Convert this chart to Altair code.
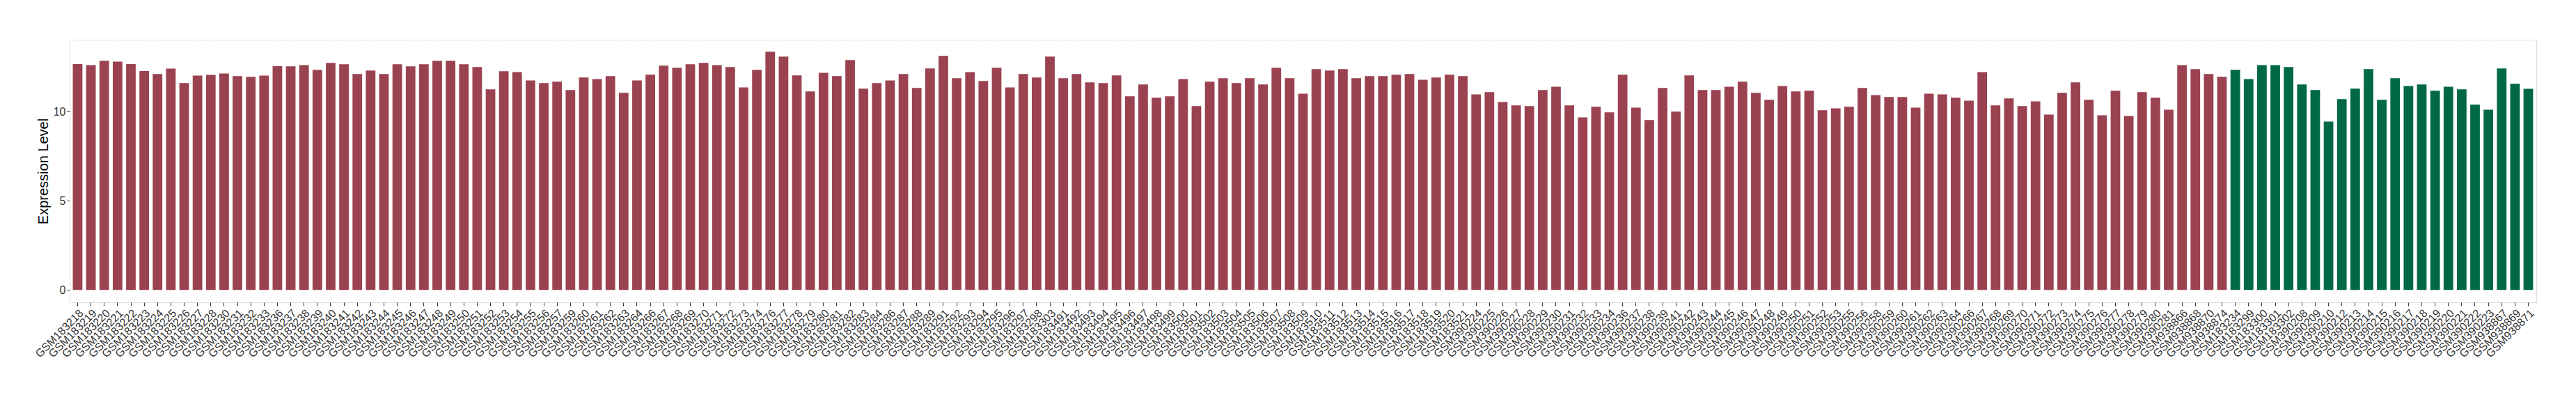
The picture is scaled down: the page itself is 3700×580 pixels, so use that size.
import altair as alt
import pandas as pd

red_samples = [
    "GSM183218", "GSM183219", "GSM183220", "GSM183221", "GSM183222", "GSM183223", "GSM183224", "GSM183225",
    "GSM183226", "GSM183227", "GSM183228", "GSM183230", "GSM183231", "GSM183232", "GSM183233", "GSM183236",
    "GSM183237", "GSM183238", "GSM183239", "GSM183240", "GSM183241", "GSM183242", "GSM183243", "GSM183244",
    "GSM183245", "GSM183246", "GSM183247", "GSM183248", "GSM183249", "GSM183250", "GSM183251", "GSM183252",
    "GSM183253", "GSM183254", "GSM183255", "GSM183256", "GSM183257", "GSM183259", "GSM183260", "GSM183261",
    "GSM183262", "GSM183263", "GSM183264", "GSM183266", "GSM183267", "GSM183268", "GSM183269", "GSM183270",
    "GSM183271", "GSM183272", "GSM183273", "GSM183274", "GSM183276", "GSM183277", "GSM183278", "GSM183279",
    "GSM183280", "GSM183281", "GSM183282", "GSM183283", "GSM183284", "GSM183286", "GSM183287", "GSM183288",
    "GSM183289", "GSM183291", "GSM183292", "GSM183293", "GSM183294", "GSM183295", "GSM183296", "GSM183297",
    "GSM183298", "GSM183303", "GSM183491", "GSM183492", "GSM183493", "GSM183494", "GSM183495", "GSM183496",
    "GSM183497", "GSM183498", "GSM183499", "GSM183500", "GSM183501", "GSM183502", "GSM183503", "GSM183504",
    "GSM183505", "GSM183506", "GSM183507", "GSM183508", "GSM183509", "GSM183510", "GSM183511", "GSM183512",
    "GSM183513", "GSM183514", "GSM183515", "GSM183516", "GSM183517", "GSM183518", "GSM183519", "GSM183520",
    "GSM183521", "GSM390224", "GSM390225", "GSM390226", "GSM390227", "GSM390228", "GSM390229", "GSM390230",
    "GSM390231", "GSM390232", "GSM390233", "GSM390234", "GSM390236", "GSM390237", "GSM390238", "GSM390239",
    "GSM390241", "GSM390242", "GSM390243", "GSM390244", "GSM390245", "GSM390246", "GSM390247", "GSM390248",
    "GSM390249", "GSM390250", "GSM390251", "GSM390252", "GSM390253", "GSM390255", "GSM390256", "GSM390258",
    "GSM390259", "GSM390260", "GSM390261", "GSM390262", "GSM390263", "GSM390264", "GSM390266", "GSM390267",
    "GSM390268", "GSM390269", "GSM390270", "GSM390271", "GSM390272", "GSM390273", "GSM390274", "GSM390275",
    "GSM390276", "GSM390277", "GSM390278", "GSM390279", "GSM390280", "GSM390281", "GSM938866", "GSM938868",
    "GSM938870", "GSM938874",
]
red_values = [
    12.65, 12.60, 12.84, 12.79, 12.65, 12.26, 12.10, 12.40,
    11.59, 12.01, 12.05, 12.13, 11.98, 11.94, 12.01, 12.54,
    12.53, 12.60, 12.33, 12.72, 12.64, 12.10, 12.29, 12.10,
    12.64, 12.53, 12.64, 12.84, 12.84, 12.64, 12.49, 11.24,
    12.25, 12.21, 11.74, 11.59, 11.67, 11.20, 11.90, 11.82,
    11.98, 11.04, 11.74, 12.06, 12.57, 12.45, 12.64, 12.72,
    12.60, 12.49, 11.35, 12.33, 13.35, 13.07, 12.02, 11.12,
    12.17, 11.98, 12.88, 11.28, 11.59, 11.74, 12.10, 11.32,
    12.41, 13.11, 11.86, 12.21, 11.71, 12.45, 11.35, 12.10,
    11.90, 13.07, 11.86, 12.10, 11.63, 11.59, 12.02, 10.85,
    11.51, 10.77, 10.85, 11.82, 10.30, 11.67, 11.86, 11.59,
    11.86, 11.51, 12.45, 11.86, 11.00, 12.37, 12.29, 12.37,
    11.86, 11.98, 11.98, 12.06, 12.10, 11.78, 11.90, 12.06,
    11.98, 10.96, 11.08, 10.53, 10.34, 10.30, 11.20, 11.39,
    10.34, 9.67, 10.26, 9.95, 12.06, 10.22, 9.52, 11.32,
    9.99, 12.02, 11.20, 11.20, 11.39, 11.67, 11.04, 10.65,
    11.43, 11.12, 11.16, 10.07, 10.18, 10.26, 11.32, 10.92,
    10.81, 10.81, 10.22, 11.00, 10.96, 10.77, 10.61, 12.21,
    10.34, 10.73, 10.30, 10.57, 9.83, 11.04, 11.63, 10.65,
    9.79, 11.16, 9.75, 11.08, 10.77, 10.10, 12.60, 12.37,
    12.10, 11.94,
]
green_samples = [
    "GSM183234", "GSM183299", "GSM183300", "GSM183301", "GSM183302", "GSM390208", "GSM390209", "GSM390210",
    "GSM390212", "GSM390213", "GSM390214", "GSM390215", "GSM390216", "GSM390217", "GSM390218", "GSM390219",
    "GSM390220", "GSM390221", "GSM390222", "GSM390223", "GSM938867", "GSM938869", "GSM938871",
]
green_values = [
    12.33, 11.82, 12.60, 12.60, 12.49, 11.51, 11.20, 9.44,
    10.69, 11.28, 12.37, 10.65, 11.86, 11.43, 11.51, 11.16,
    11.39, 11.24, 10.38, 10.10, 12.41, 11.55, 11.27,
]
groups = ["Group 1", "Group 2"]
colors = ["#9B4251", "#006847"]
y_ticks = [0, 2.5, 5, 7.5, 10, 12.5]

df = pd.DataFrame({
    "sample": red_samples + green_samples,
    "value": red_values + green_values,
    "group": [groups[0]] * len(red_samples) + [groups[1]] * len(green_samples),
})
order = red_samples + green_samples

major = "datum.value % 5 === 0"

chart = alt.Chart(df).mark_bar().encode(
    x=alt.X(
        "sample:N", sort=order, title=None,
        scale=alt.Scale(paddingInner=0.28, paddingOuter=0.24),
        axis=alt.Axis(
            labelAngle=-45, labelAlign="right", labelBaseline="top", bandPosition=0.5,
            grid=True, gridColor="white", gridWidth=1.2, domain=False,
            tickColor="#333333", tickSize=5, tickWidth=1, labelPadding=2,
            labelFontSize=16, labelColor="#333333", labelOverlap=False, labelFlush=False,
        ),
    ),
    y=alt.Y(
        "value:Q", title="Expression Level",
        scale=alt.Scale(domain=[-0.69, 14.02], nice=False),
        axis=alt.Axis(
            values=y_ticks,
            labelExpr="datum.value % 5 === 0 ? datum.label : ''",
            grid=True, gridColor="white",
            gridWidth={"condition": {"test": major, "value": 1.3}, "value": 0.6},
            tickOpacity={"condition": {"test": major, "value": 1}, "value": 0},
            tickColor="#333333", tickSize=4, labelPadding=2, domain=False,
            labelFontSize=16, labelColor="#333333",
            titleFontSize=20, titleFontWeight="normal", titleColor="black", titlePadding=4,
        ),
    ),
    y2=alt.datum(0),
    color=alt.Color("group:N", scale=alt.Scale(domain=groups, range=colors), legend=None),
).properties(
    width=3543, height=377,
    padding={"left": 92, "top": 49, "right": 49, "bottom": 120},
    autosize="none",
).configure_view(fill="#EBEBEB", stroke="transparent", strokeWidth=0).configure(font="Liberation Sans")

chart.save("out.html", embed_options={"renderer": "svg", "actions": False})
